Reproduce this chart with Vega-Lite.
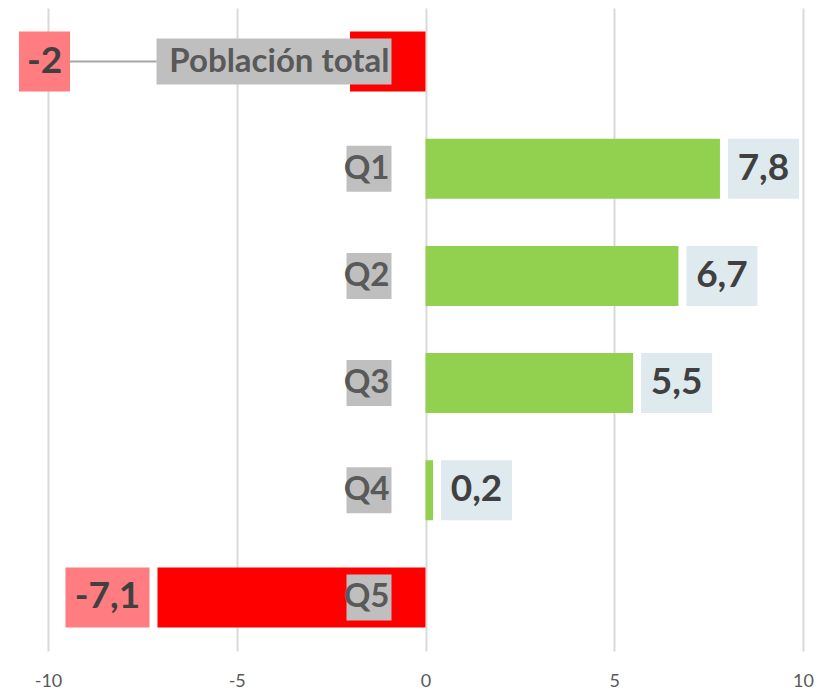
{
  "$schema": "https://vega.github.io/schema/vega-lite/v6.json",
  "width": 755,
  "height": 643,
  "autosize": {"type": "none"},
  "padding": {"left": 48, "top": 8, "right": 33, "bottom": 41},
  "config": {
    "view": {"stroke": null},
    "locale": {"number": {"decimal": ",", "thousands": ".", "grouping": [3], "currency": ["", " €"], "minus": "-"}}
  },
  "data": {
    "values": [
      {"cat": "Población total", "value": -2},
      {"cat": "Q1", "value": 7.8},
      {"cat": "Q2", "value": 6.7},
      {"cat": "Q3", "value": 5.5},
      {"cat": "Q4", "value": 0.2},
      {"cat": "Q5", "value": -7.1}
    ]
  },
  "encoding": {
    "y": {
      "field": "cat",
      "type": "nominal",
      "scale": {"domain": ["Población total", "Q1", "Q2", "Q3", "Q4", "Q5"], "paddingInner": 0.44, "paddingOuter": 0.22},
      "axis": null
    }
  },
  "layer": [
    {
      "mark": {"type": "bar"},
      "encoding": {
        "x": {
          "field": "value",
          "type": "quantitative",
          "scale": {"domain": [-10, 10], "nice": false},
          "axis": {
            "values": [-10, -5, 0, 5, 10],
            "title": null,
            "grid": true,
            "gridColor": "#d9d9d9",
            "gridWidth": 2,
            "domain": false,
            "ticks": false,
            "labelFlush": false,
            "labelColor": "#595959",
            "labelFont": "Lato",
            "labelFontSize": 18,
            "labelPadding": 21,
            "format": "d"
          }
        },
        "x2": {"datum": 0},
        "color": {"condition": {"test": "datum.value < 0", "value": "#ff0000"}, "value": "#92d050"}
      }
    },
    {
      "transform": [{"filter": "datum.cat != 'Población total'"}],
      "mark": {"type": "bar", "height": 46, "color": "#bfbfbf", "xOffset": -79, "x2Offset": -34},
      "encoding": {"x": {"datum": 0, "type": "quantitative"}, "x2": {"datum": 0}}
    },
    {
      "transform": [{"filter": "datum.cat == 'Población total'"}],
      "mark": {"type": "bar", "height": 46, "color": "#bfbfbf", "xOffset": -269, "x2Offset": -34},
      "encoding": {"x": {"datum": 0, "type": "quantitative"}, "x2": {"datum": 0}}
    },
    {
      "mark": {"type": "text", "align": "right", "baseline": "middle", "dx": -36, "font": "Lato", "fontWeight": "bold", "fontSize": 33, "color": "#595959"},
      "encoding": {"x": {"datum": 0, "type": "quantitative"}, "text": {"field": "cat"}}
    },
    {
      "transform": [{"filter": "datum.value >= 0"}],
      "mark": {"type": "bar", "color": "#deeaee", "xOffset": 8, "x2Offset": 79},
      "encoding": {"x": {"field": "value", "type": "quantitative"}, "x2": {"field": "value"}}
    },
    {
      "transform": [{"filter": "datum.cat == 'Q5'"}],
      "mark": {"type": "bar", "color": "#ff7c80", "xOffset": -92, "x2Offset": -8},
      "encoding": {"x": {"field": "value", "type": "quantitative"}, "x2": {"field": "value"}}
    },
    {
      "transform": [{"filter": "datum.cat == 'Población total'"}],
      "mark": {"type": "bar", "color": "#ff7c80", "xOffset": -29, "x2Offset": 22},
      "encoding": {"x": {"datum": -10, "type": "quantitative"}, "x2": {"datum": -10}}
    },
    {
      "transform": [{"filter": "datum.cat == 'Población total'"}],
      "mark": {"type": "rule", "color": "#a6a6a6", "strokeWidth": 2, "xOffset": 22, "x2Offset": -269},
      "encoding": {"x": {"datum": -10, "type": "quantitative"}, "x2": {"datum": 0}, "y": {"field": "cat", "type": "nominal", "bandPosition": 0.5}}
    },
    {
      "transform": [{"filter": "datum.value >= 0"}],
      "mark": {"type": "text", "align": "center", "baseline": "middle", "dx": 43.5, "font": "Lato", "fontWeight": "bold", "fontSize": 37, "color": "#404040"},
      "encoding": {"x": {"field": "value", "type": "quantitative"}, "text": {"field": "value", "type": "quantitative", "format": ".1~f"}}
    },
    {
      "transform": [{"filter": "datum.cat == 'Q5'"}],
      "mark": {"type": "text", "align": "center", "baseline": "middle", "dx": -50, "font": "Lato", "fontWeight": "bold", "fontSize": 37, "color": "#404040"},
      "encoding": {"x": {"field": "value", "type": "quantitative"}, "text": {"field": "value", "type": "quantitative", "format": ".1~f"}}
    },
    {
      "transform": [{"filter": "datum.cat == 'Población total'"}],
      "mark": {"type": "text", "align": "center", "baseline": "middle", "dx": -3.5, "font": "Lato", "fontWeight": "bold", "fontSize": 37, "color": "#404040"},
      "encoding": {"x": {"datum": -10, "type": "quantitative"}, "text": {"field": "value", "type": "quantitative", "format": ".1~f"}}
    }
  ]
}
